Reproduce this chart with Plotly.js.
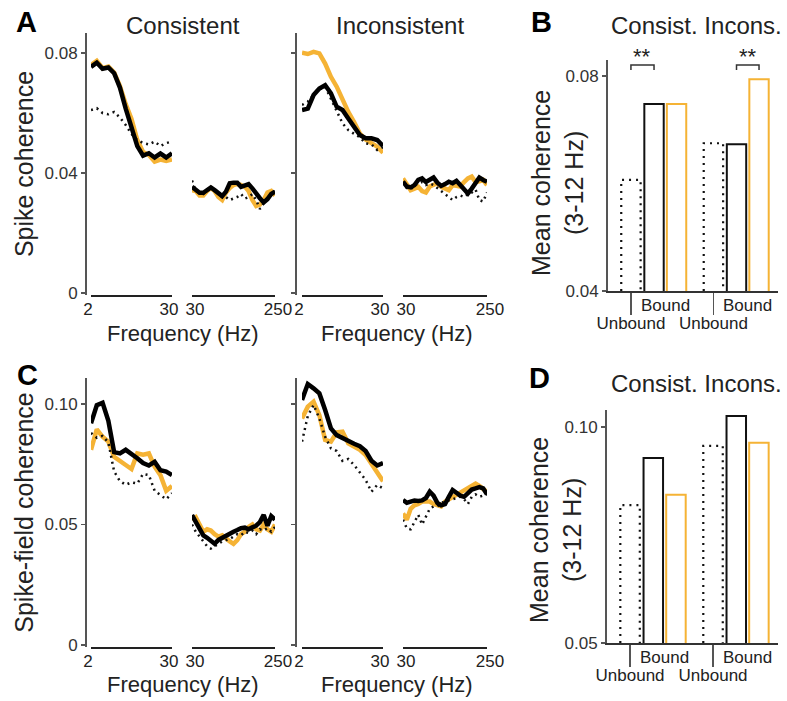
<!DOCTYPE html>
<html><head><meta charset="utf-8">
<script src="https://cdn.plot.ly/plotly-3.0.1.min.js"></script>
<style>html,body{margin:0;padding:0;background:#fff}</style>
</head><body><div id="chart" style="width:787px;height:701px"></div>
<script>
// ---------------- DATA ----------------
const freqLow = [2,4,6,8,10,12,14,16,18,20,22,24,26,28,30];
const freqHigh = [30,40,50,60,70,80,90,100,110,120,130,140,150,160,170,180,190,200,210,220,230,240,250];
const lowTicks = [2,30];
const highTicks = [30,250];

// Panel A: spike coherence
const spikeConsUnboundLow = [0.0610,0.0616,0.0600,0.0596,0.0604,0.0585,0.0560,0.0530,0.0510,0.0500,0.0495,0.0505,0.0490,0.0500,0.0505];
const spikeConsBoundLow = [0.0754,0.0768,0.0748,0.0752,0.0733,0.0685,0.0615,0.0555,0.0490,0.0458,0.0466,0.0452,0.0465,0.0452,0.0466];
const spikeConsOrangeLow = [0.0760,0.0774,0.0750,0.0755,0.0735,0.0690,0.0630,0.0580,0.0510,0.0470,0.0460,0.0438,0.0445,0.0440,0.0445];
const spikeConsUnboundHigh = [0.0375,0.0340,0.0335,0.0330,0.0345,0.0350,0.0345,0.0330,0.0320,0.0320,0.0310,0.0315,0.0320,0.0330,0.0315,0.0320,0.0330,0.0310,0.0280,0.0300,0.0320,0.0330,0.0340];
const spikeConsBoundHigh = [0.0354,0.0343,0.0334,0.0334,0.0343,0.0352,0.0343,0.0332,0.0323,0.0338,0.0366,0.0368,0.0368,0.0354,0.0360,0.0363,0.0349,0.0330,0.0316,0.0302,0.0313,0.0330,0.0338];
const spikeConsOrangeHigh = [0.0343,0.0340,0.0325,0.0325,0.0340,0.0350,0.0340,0.0320,0.0310,0.0335,0.0350,0.0360,0.0365,0.0360,0.0355,0.0340,0.0310,0.0290,0.0295,0.0310,0.0335,0.0340,0.0325];

const spikeInconsUnboundLow = [0.0627,0.0638,0.0660,0.0679,0.0688,0.0649,0.0605,0.0566,0.0543,0.0530,0.0519,0.0499,0.0496,0.0477,0.0486];
const spikeInconsBoundLow = [0.0610,0.0615,0.0660,0.0682,0.0693,0.0666,0.0621,0.0610,0.0582,0.0552,0.0527,0.0516,0.0516,0.0510,0.0490];
const spikeInconsOrangeLow = [0.0801,0.0797,0.0804,0.0799,0.0765,0.0721,0.0688,0.0643,0.0604,0.0570,0.0532,0.0512,0.0499,0.0488,0.0468];
const spikeInconsUnboundHigh = [0.0370,0.0350,0.0345,0.0360,0.0365,0.0370,0.0360,0.0365,0.0360,0.0350,0.0340,0.0330,0.0320,0.0310,0.0320,0.0325,0.0320,0.0330,0.0335,0.0345,0.0310,0.0305,0.0335];
const spikeInconsBoundHigh = [0.0371,0.0355,0.0352,0.0360,0.0377,0.0382,0.0370,0.0376,0.0385,0.0368,0.0357,0.0363,0.0371,0.0366,0.0374,0.0360,0.0343,0.0332,0.0348,0.0368,0.0385,0.0377,0.0371];
const spikeInconsOrangeHigh = [0.0382,0.0360,0.0343,0.0348,0.0354,0.0340,0.0335,0.0355,0.0362,0.0366,0.0354,0.0348,0.0343,0.0360,0.0357,0.0355,0.0370,0.0382,0.0388,0.0370,0.0372,0.0377,0.0360];

// Panel C: spike-field coherence
const sfcConsUnboundLow = [0.0880,0.0860,0.0868,0.0840,0.0720,0.0680,0.0665,0.0675,0.0670,0.0710,0.0705,0.0640,0.0622,0.0605,0.0630];
const sfcConsBoundLow = [0.0920,0.0995,0.1005,0.0930,0.0800,0.0795,0.0810,0.0795,0.0775,0.0755,0.0745,0.0760,0.0725,0.0720,0.0705];
const sfcConsOrangeLow = [0.0810,0.0895,0.0864,0.0844,0.0781,0.0761,0.0747,0.0730,0.0795,0.0790,0.0795,0.0740,0.0705,0.0640,0.0660];
const sfcConsUnboundHigh = [0.0500,0.0470,0.0450,0.0430,0.0410,0.0400,0.0410,0.0420,0.0430,0.0435,0.0440,0.0450,0.0460,0.0455,0.0470,0.0465,0.0475,0.0460,0.0480,0.0475,0.0485,0.0470,0.0490];
const sfcConsBoundHigh = [0.0539,0.0510,0.0475,0.0455,0.0445,0.0435,0.0420,0.0436,0.0445,0.0455,0.0465,0.0470,0.0477,0.0485,0.0487,0.0480,0.0488,0.0495,0.0510,0.0540,0.0495,0.0535,0.0520];
const sfcConsOrangeHigh = [0.0520,0.0530,0.0500,0.0470,0.0480,0.0475,0.0460,0.0450,0.0455,0.0440,0.0430,0.0420,0.0435,0.0460,0.0470,0.0490,0.0500,0.0480,0.0475,0.0500,0.0480,0.0470,0.0500];

const sfcInconsUnboundLow = [0.0844,0.0950,0.0996,0.0940,0.0864,0.0816,0.0805,0.0764,0.0772,0.0747,0.0716,0.0685,0.0636,0.0664,0.0650];
const sfcInconsBoundLow = [0.1017,0.1083,0.1065,0.1044,0.0975,0.0899,0.0871,0.0858,0.0845,0.0835,0.0825,0.0805,0.0765,0.0745,0.0755];
const sfcInconsOrangeLow = [0.0940,0.0989,0.1010,0.0954,0.0851,0.0844,0.0882,0.0885,0.0837,0.0823,0.0810,0.0788,0.0754,0.0719,0.0680];
const sfcInconsUnboundHigh = [0.0520,0.0484,0.0480,0.0510,0.0540,0.0500,0.0530,0.0565,0.0575,0.0575,0.0590,0.0595,0.0600,0.0605,0.0610,0.0615,0.0605,0.0585,0.0615,0.0625,0.0615,0.0620,0.0625];
const sfcInconsBoundHigh = [0.0602,0.0590,0.0595,0.0600,0.0598,0.0600,0.0610,0.0636,0.0620,0.0590,0.0580,0.0585,0.0615,0.0643,0.0632,0.0620,0.0615,0.0630,0.0645,0.0650,0.0655,0.0650,0.0625];
const sfcInconsOrangeHigh = [0.0546,0.0520,0.0565,0.0580,0.0585,0.0595,0.0595,0.0595,0.0585,0.0580,0.0575,0.0595,0.0605,0.0610,0.0620,0.0635,0.0645,0.0650,0.0660,0.0670,0.0660,0.0645,0.0635];

// Panels B and D: mean coherence (3-12 Hz)
const barGroups = ['Consist.', 'Incons.'];
const meanSpikeUnbound = [0.0607, 0.0675];
const meanSpikeBound = [0.0748, 0.0673];
const meanSpikeOrange = [0.0748, 0.0794];
const meanSfcUnbound = [0.0819, 0.0956];
const meanSfcBound = [0.0928, 0.1025];
const meanSfcOrange = [0.0843, 0.0963];

// ---------------- STYLE / LAYOUT HELPERS ----------------
const W = 787, H = 701;
const PX = v => v / W;
const PY = v => 1 - v / H;
const FONT = '"Liberation Sans", Arial, sans-serif';
const ORANGE = '#F5B335';
const TXT = '#222';
const TICK = 17;
const traces = [];
const layout = {
  width: W, height: H,
  margin: {l: 0, r: 0, t: 0, b: 0},
  paper_bgcolor: '#fff', plot_bgcolor: '#fff',
  showlegend: false,
  barmode: 'overlay',
  font: {family: FONT, color: TXT, size: TICK},
  annotations: [], shapes: []
};

function xBracket(domPx, range, ticks, yId, shift) {
  return {
    domain: [PX(domPx[0]), PX(domPx[1])], range: range, anchor: yId,
    showline: true, linecolor: '#222', linewidth: 1.5,
    ticks: 'inside', ticklen: 5, tickwidth: 1.5, tickcolor: '#222',
    tickvals: ticks, ticktext: ticks.map(String), tickangle: 0,
    ticklabelshift: shift, ticklabelstandoff: -2,
    tickfont: {size: TICK, color: TXT, family: FONT},
    showgrid: false, zeroline: false, fixedrange: true
  };
}
function yAxisDef(domPx, range, vals, texts, posPx, showLabels, title) {
  const ax = {
    domain: [PY(domPx[1]), PY(domPx[0])], range: range,
    anchor: 'free', position: PX(posPx),
    showline: true, linecolor: '#555', linewidth: 2,
    ticks: 'outside', ticklen: 4, tickwidth: 1.5, tickcolor: '#555',
    tickvals: vals, ticktext: texts, showticklabels: showLabels,
    tickfont: {size: TICK, color: '#333', family: FONT},
    showgrid: false, zeroline: false, fixedrange: true
  };
  if (title) ax.title = {text: title, font: {size: 25, color: TXT, family: FONT}, standoff: 3};
  return ax;
}
function addLines(xl, xh, y, unb, bnd, orn) {
  const defs = [
    {d: orn, name: 'Bound (orange)', line: {color: ORANGE, width: 4.5}},
    {d: unb, name: 'Unbound', line: {color: '#111', width: 2.5, dash: '2px,4px'}},
    {d: bnd, name: 'Bound', line: {color: '#000', width: 4.5}}
  ];
  defs.forEach(s => {
    traces.push({type: 'scatter', mode: 'lines', name: s.name, x: freqLow, y: s.d[0], xaxis: xl, yaxis: y, line: s.line, hoverinfo: 'skip'});
    traces.push({type: 'scatter', mode: 'lines', name: s.name, x: freqHigh, y: s.d[1], xaxis: xh, yaxis: y, line: s.line, hoverinfo: 'skip'});
  });
}
function ann(text, xpx, ypx, size, opts) {
  layout.annotations.push(Object.assign({
    text: text, x: PX(xpx), y: PY(ypx), xref: 'paper', yref: 'paper',
    showarrow: false, xanchor: 'center', yanchor: 'middle',
    font: {size: size, color: TXT, family: FONT}
  }, opts || {}));
}

// ---------------- LINE PANELS ----------------
const spikeRange = [-0.00067, 0.0867];
const sfcRange = [-0.00083, 0.1108];
const yDomA = [33, 295], yDomC = [378, 647];

// A left
layout.xaxis = xBracket([91, 172], [2, 30], lowTicks, 'y', -3);
layout.xaxis2 = xBracket([192, 275], [30, 250], highTicks, 'y', 3);
layout.yaxis = yAxisDef(yDomA, spikeRange, [0, 0.04, 0.08], ['0', '0.04', '0.08'], 86, true, 'Spike coherence');
addLines('x', 'x2', 'y', [spikeConsUnboundLow, spikeConsUnboundHigh], [spikeConsBoundLow, spikeConsBoundHigh], [spikeConsOrangeLow, spikeConsOrangeHigh]);
// A right
layout.xaxis3 = xBracket([302, 383], [2, 30], lowTicks, 'y2', -3);
layout.xaxis4 = xBracket([403, 487], [30, 250], highTicks, 'y2', 3);
layout.yaxis2 = yAxisDef(yDomA, spikeRange, [0, 0.04, 0.08], ['0', '0.04', '0.08'], 296, false, null);
addLines('x3', 'x4', 'y2', [spikeInconsUnboundLow, spikeInconsUnboundHigh], [spikeInconsBoundLow, spikeInconsBoundHigh], [spikeInconsOrangeLow, spikeInconsOrangeHigh]);
// C left
layout.xaxis6 = xBracket([91, 172], [2, 30], lowTicks, 'y4', -3);
layout.xaxis7 = xBracket([192, 275], [30, 250], highTicks, 'y4', 3);
layout.yaxis4 = yAxisDef(yDomC, sfcRange, [0, 0.05, 0.10], ['0', '0.05', '0.10'], 86, true, 'Spike-field coherence');
addLines('x6', 'x7', 'y4', [sfcConsUnboundLow, sfcConsUnboundHigh], [sfcConsBoundLow, sfcConsBoundHigh], [sfcConsOrangeLow, sfcConsOrangeHigh]);
// C right
layout.xaxis8 = xBracket([302, 383], [2, 30], lowTicks, 'y5', -3);
layout.xaxis9 = xBracket([403, 487], [30, 250], highTicks, 'y5', 3);
layout.yaxis5 = yAxisDef(yDomC, sfcRange, [0, 0.05, 0.10], ['0', '0.05', '0.10'], 296, false, null);
addLines('x8', 'x9', 'y5', [sfcInconsUnboundLow, sfcInconsUnboundHigh], [sfcInconsBoundLow, sfcInconsBoundHigh], [sfcInconsOrangeLow, sfcInconsOrangeHigh]);

// ---------------- BAR PANELS ----------------
const OFF = {unbound: -0.28, bound: 0, orange: 0.273};
const BW = 0.235;
function barPanel(xId, yId, xKey, yKey, domX, domY, yRange, yVals, yTexts, unb, bnd, orn, sig) {
  const base = yRange[0];
  layout[xKey] = {
    domain: [PX(domX[0]), PX(domX[1])], range: [-0.558, 1.503], anchor: yId,
    showline: true, linecolor: '#333', linewidth: 1.5,
    ticks: 'outside', ticklen: 22, tickwidth: 1.5, tickcolor: '#555',
    tickvals: barGroups.map((g, i) => i + OFF.unbound), ticktext: barGroups.map(() => 'Unbound'),
    tickangle: 0, ticklabelstandoff: -6, tickfont: {size: 17, color: TXT, family: FONT},
    showgrid: false, zeroline: false, fixedrange: true
  };
  layout[yKey] = {
    domain: [PY(domY[1]), PY(domY[0])], range: yRange, anchor: xId,
    showline: true, linecolor: '#555', linewidth: 2,
    ticks: 'outside', ticklen: 4, tickwidth: 1.5, tickcolor: '#555',
    tickvals: yVals, ticktext: yTexts,
    tickfont: {size: TICK, color: '#333', family: FONT},
    showgrid: false, zeroline: false, fixedrange: true
  };
  // dotted outline bars (unbound)
  const ux = [], uy = [];
  unb.forEach((v, i) => {
    const c = i + OFF.unbound;
    ux.push(c - BW / 2, c - BW / 2, c + BW / 2, c + BW / 2, null);
    uy.push(base, v, v, base, null);
  });
  traces.push({type: 'scatter', mode: 'lines', name: 'Unbound', x: ux, y: uy, xaxis: xId, yaxis: yId,
    line: {color: '#111', width: 2.2, dash: '2px,5px'}, hoverinfo: 'skip', cliponaxis: false});
  traces.push({type: 'bar', name: 'Bound', x: barGroups.map((g, i) => i + OFF.bound), y: bnd, width: BW,
    xaxis: xId, yaxis: yId, marker: {color: 'rgba(0,0,0,0)', line: {color: '#111', width: 2}}, hoverinfo: 'skip'});
  traces.push({type: 'bar', name: 'Bound (orange)', x: barGroups.map((g, i) => i + OFF.orange), y: orn, width: BW,
    xaxis: xId, yaxis: yId, marker: {color: 'rgba(0,0,0,0)', line: {color: ORANGE, width: 2}}, hoverinfo: 'skip'});
  // "Bound" labels
  barGroups.forEach((g, i) => {
    layout.annotations.push({text: 'Bound', x: i + (OFF.bound + OFF.orange) / 2, xref: xId, y: PY(domY[1] + 14), yref: 'paper',
      showarrow: false, xanchor: 'center', yanchor: 'middle', font: {size: 17, color: TXT, family: FONT}});
  });
  // significance brackets
  (sig || []).forEach(s => {
    const x0 = s.i + OFF[s.a], x1 = s.i + OFF[s.b];
    layout.shapes.push({type: 'path', xref: xId, yref: 'paper',
      path: `M ${x0},${PY(70)} L ${x0},${PY(65)} L ${x1},${PY(65)} L ${x1},${PY(70)}`,
      line: {color: '#333', width: 1.5}});
    layout.annotations.push({text: '**', x: (x0 + x1) / 2, xref: xId, y: PY(56), yref: 'paper',
      showarrow: false, xanchor: 'center', yanchor: 'middle', font: {size: 22, color: TXT, family: FONT}});
  });
}
barPanel('x5', 'y3', 'xaxis5', 'yaxis3', [608, 778], [60, 291], [0.04, 0.083], [0.04, 0.08], ['0.04', '0.08'],
  meanSpikeUnbound, meanSpikeBound, meanSpikeOrange,
  [{i: 0, a: 'unbound', b: 'bound'}, {i: 1, a: 'bound', b: 'orange'}]);
barPanel('x10', 'y6', 'xaxis10', 'yaxis6', [607, 778], [410, 643], [0.05, 0.1039], [0.05, 0.10], ['0.05', '0.10'],
  meanSfcUnbound, meanSfcBound, meanSfcOrange, []);

// ---------------- TEXT ----------------
const LET = {size: 29, color: '#000', family: FONT};
ann('<b>A</b>', 26, 22, 29, {font: LET});
ann('<b>B</b>', 541, 22, 29, {font: LET});
ann('<b>C</b>', 27, 375, 29, {font: LET});
ann('<b>D</b>', 539, 378, 29, {font: LET});
ann('Consistent', 183, 26, 24);
ann('Inconsistent', 400, 26, 24);
ann('Consist. Incons.', 696, 25, 24);
ann('Consist. Incons.', 696, 383, 24);
ann('Frequency (Hz)', 183, 333, 22);
ann('Frequency (Hz)', 397, 333, 22);
ann('Frequency (Hz)', 183, 684, 22);
ann('Frequency (Hz)', 397, 684, 22);
ann('Mean coherence<br>(3-12 Hz)', 557, 183, 25, {textangle: -90});
ann('Mean coherence<br>(3-12 Hz)', 555, 530, 25, {textangle: -90});

Plotly.newPlot('chart', traces, layout, {staticPlot: true, displayModeBar: false});
</script></body></html>
